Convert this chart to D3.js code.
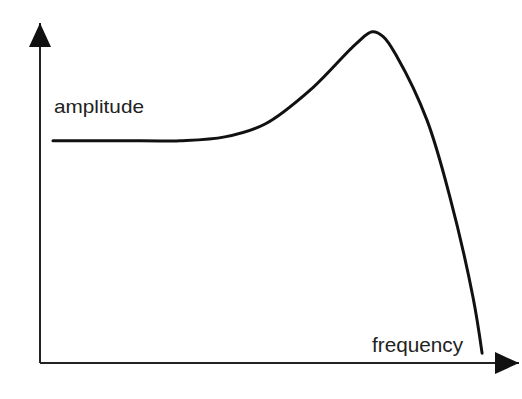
<!DOCTYPE html>
<html>
<head>
<meta charset="utf-8">
<script src="https://cdn.jsdelivr.net/npm/d3@7"></script>
<style>
  html, body { margin: 0; padding: 0; background: #fff; }
  svg { display: block; }
</style>
</head>
<body>
<div id="chart"></div>
<script>
// response curve (arbitrary units 0..100)
const frequency = [2.7, 16.7, 29.2, 38.5, 46.9, 56.3, 66.0, 69.2, 71.5, 74.4, 80.6, 85.4, 90.2, 92.1];
const amplitude = [65.4, 65.4, 65.4, 66.5, 70.3, 80.3, 94.1, 97.4, 96.0, 90.0, 71.5, 48.8, 19.4, 2.9];

const xLabel = "frequency";
const yLabel = "amplitude";

const width = 522, height = 399;
const origin = { x: 40, y: 363 };

const svg = d3.select("#chart")
  .append("svg")
  .attr("width", width)
  .attr("height", height);

const x = d3.scaleLinear()
  .domain([0, 100])
  .range([origin.x, 520]);

const y = d3.scaleLinear()
  .domain([0, 100])
  .range([origin.y, 23]);

const curveData = frequency.map((f, i) => ({ f: f, a: amplitude[i] }));

// arrow heads
const defs = svg.append("defs");
defs.append("marker")
  .attr("id", "arrow")
  .attr("markerUnits", "userSpaceOnUse")
  .attr("viewBox", "0 0 24 22")
  .attr("refX", 24)
  .attr("refY", 11)
  .attr("markerWidth", 24)
  .attr("markerHeight", 22)
  .attr("orient", "auto")
  .append("path")
  .attr("d", "M0,0 L24,11 L0,22 Z")
  .attr("fill", "#111");

// y-axis
svg.append("line")
  .attr("x1", x(0)).attr("y1", y(0))
  .attr("x2", x(0)).attr("y2", y(100))
  .attr("stroke", "#222")
  .attr("stroke-width", 2)
  .attr("marker-end", "url(#arrow)");

// x-axis
svg.append("line")
  .attr("x1", x(0)).attr("y1", y(0))
  .attr("x2", x(100) - 1).attr("y2", y(0))
  .attr("stroke", "#222")
  .attr("stroke-width", 2)
  .attr("marker-end", "url(#arrow)");

const line = d3.line()
  .x(d => x(d.f))
  .y(d => y(d.a))
  .curve(d3.curveCatmullRom.alpha(0.5));

svg.append("path")
  .datum(curveData)
  .attr("fill", "none")
  .attr("stroke", "#111")
  .attr("stroke-width", 3)
  .attr("stroke-linecap", "round")
  .attr("d", line);

// axis labels
svg.append("text")
  .attr("x", 54)
  .attr("y", 113)
  .attr("font-family", "'Liberation Sans', Arial, sans-serif")
  .attr("font-size", 19)
  .attr("fill", "#222")
  .attr("textLength", 90)
  .attr("lengthAdjust", "spacingAndGlyphs")
  .text(yLabel);

svg.append("text")
  .attr("x", 372)
  .attr("y", 352)
  .attr("font-family", "'Liberation Sans', Arial, sans-serif")
  .attr("font-size", 20)
  .attr("fill", "#222")
  .attr("textLength", 91)
  .attr("lengthAdjust", "spacingAndGlyphs")
  .text(xLabel);
</script>
</body>
</html>
